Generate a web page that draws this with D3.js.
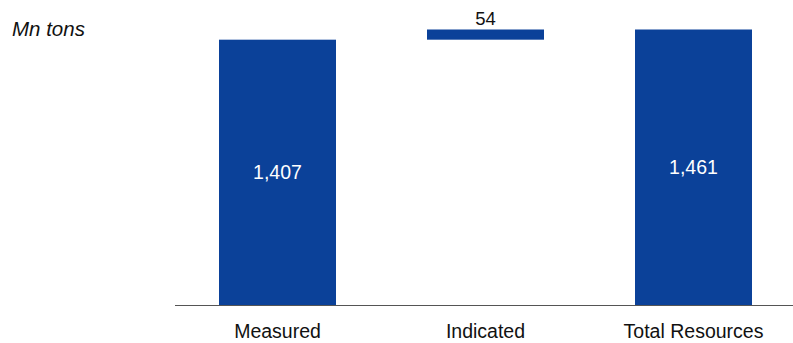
<!DOCTYPE html>
<html>
<head>
<meta charset="utf-8">
<script src="https://cdn.jsdelivr.net/npm/d3@7"></script>
<style>
  html, body { margin: 0; padding: 0; background: #fff; }
  svg { display: block; font-family: Arial, "Liberation Sans", sans-serif; }
</style>
</head>
<body>
<div id="chart"></div>
<script>
// waterfall data
const categories = ['Measured', 'Indicated', 'Total Resources'];
const values = [1407, 54, 1461];
const isTotal = [true, false, true];
const unitLabel = 'Mn tons';

const width = 793;
const height = 343;
const baseY = 305;
const topY = 29.5;

const svg = d3.select('#chart')
  .append('svg')
  .attr('width', width)
  .attr('height', height);

// running base for floating bars
let running = 0;
const rows = categories.map((c, i) => {
  let start, end;
  if (isTotal[i]) {
    start = 0;
    end = values[i];
    running = values[i];
  } else {
    start = running;
    end = running + values[i];
    running = end;
  }
  return { cat: c, value: values[i], start, end, total: isTotal[i] };
});

const x = d3.scaleBand()
  .domain(categories)
  .range([173.5, 797.5])
  .paddingInner(0.4375)
  .paddingOuter(0.21875);

const y = d3.scaleLinear()
  .domain([0, d3.max(rows, d => d.end)])
  .range([baseY, topY]);

const fmt = d3.format(',');

svg.selectAll('rect.bar')
  .data(rows)
  .enter()
  .append('rect')
  .attr('class', 'bar')
  .attr('x', d => x(d.cat))
  .attr('width', x.bandwidth())
  .attr('y', d => y(d.end))
  .attr('height', d => y(d.start) - y(d.end))
  .attr('fill', '#0b4199');

// value labels: inside totals, above floating bars
svg.selectAll('text.val')
  .data(rows)
  .enter()
  .append('text')
  .attr('class', 'val')
  .attr('x', d => x(d.cat) + x.bandwidth() / 2)
  .attr('y', d => d.total ? (y(d.start) + y(d.end)) / 2 + 7 : y(d.end) - 5)
  .attr('text-anchor', 'middle')
  .attr('font-size', d => d.total ? 19.5 : 18.5)
  .attr('fill', d => d.total ? '#fff' : '#111')
  .text(d => fmt(d.value));

// baseline
svg.append('line')
  .attr('x1', 175)
  .attr('x2', width)
  .attr('y1', baseY + 0.5)
  .attr('y2', baseY + 0.5)
  .attr('stroke', '#555')
  .attr('stroke-width', 1);

const xAxis = svg.append('g')
  .attr('transform', `translate(0,${baseY})`)
  .call(d3.axisBottom(x).tickSize(0).tickPadding(19.5));
xAxis.select('.domain').remove();
xAxis.selectAll('text')
  .attr('font-size', 19.5)
  .attr('font-family', 'Arial, "Liberation Sans", sans-serif')
  .attr('fill', '#111');

svg.append('text')
  .attr('x', 12)
  .attr('y', 36)
  .attr('font-size', 20.5)
  .attr('font-style', 'italic')
  .attr('fill', '#111')
  .text(unitLabel);
</script>
</body>
</html>
